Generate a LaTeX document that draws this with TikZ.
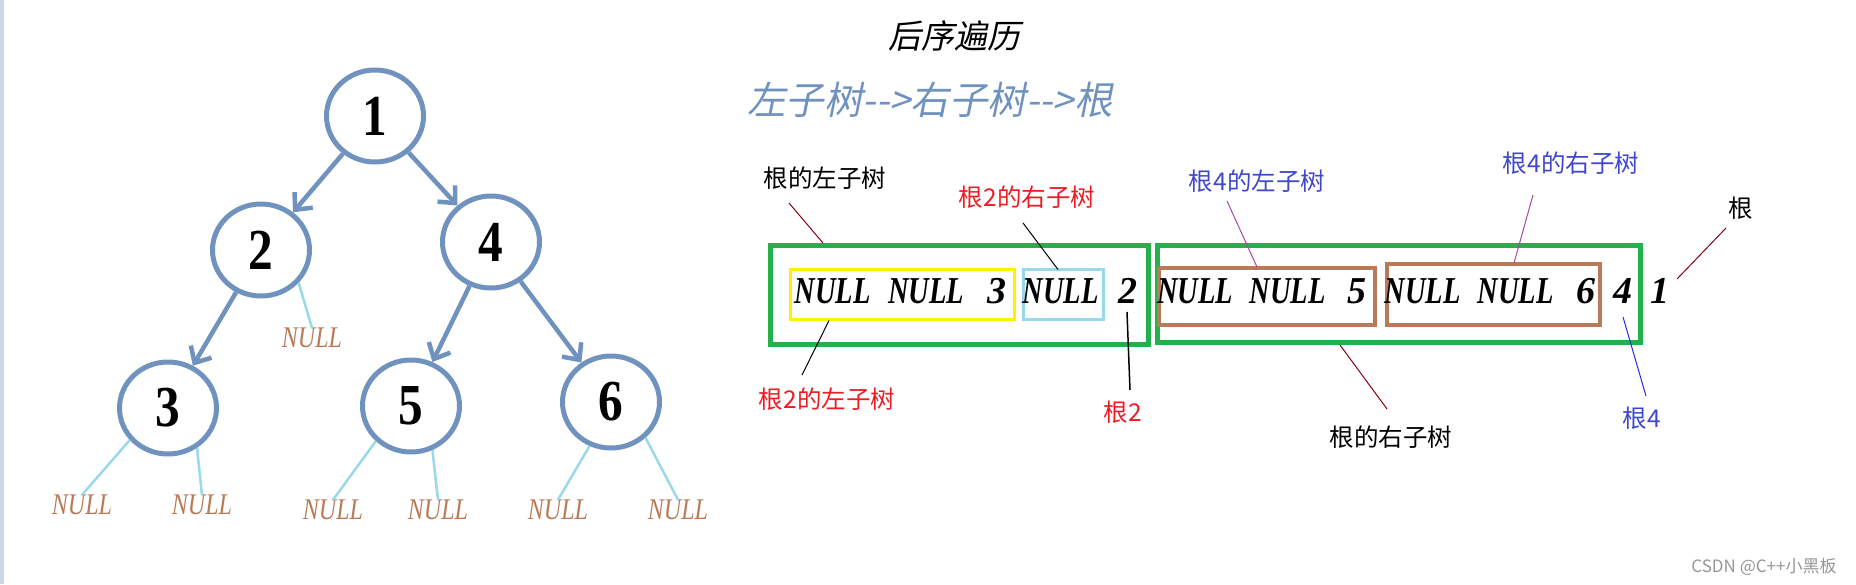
\documentclass[tikz,border=0pt]{standalone}
\usepackage{fontspec}
\setmainfont{Liberation Serif}
\newfontfamily\cjk{Noto Sans CJK SC}
\newfontfamily\cjkslant[FakeSlant=0.2]{Noto Sans CJK SC}
\newfontfamily\nullface[FakeStretch=0.8]{Liberation Serif}
\newfontfamily\seqface[FakeStretch=0.75]{Liberation Serif}
\newfontfamily\digface[FakeStretch=0.85]{Liberation Serif}
\usetikzlibrary{shapes.geometric,arrows.meta}
\definecolor{treeblue}{RGB}{112,146,190}
\definecolor{leafcyan}{RGB}{153,217,234}
\definecolor{nullbrown}{RGB}{185,122,87}
\definecolor{boxgreen}{RGB}{34,177,76}
\definecolor{boxyellow}{RGB}{255,242,0}
\definecolor{labred}{RGB}{237,28,36}
\definecolor{labindigo}{RGB}{63,72,204}
\definecolor{leadpurple}{RGB}{163,73,164}
\definecolor{leaddark}{RGB}{136,0,21}
\definecolor{leadblue}{RGB}{40,40,230}
\definecolor{wmgray}{RGB}{150,150,150}
\definecolor{sidebar}{RGB}{205,213,230}
\begin{document}
\begin{tikzpicture}[x=1pt,y=-1pt,
	treenode/.style={ellipse,draw=treeblue,line width=5pt,minimum width=97pt,minimum height=92pt,inner sep=0pt,font=\digface\bfseries\fontsize{58}{58}\selectfont},
	treearrow/.style={draw=treeblue,line width=4.5pt,-{Straight Barb[length=13pt,width=24pt]}},
	leafline/.style={draw=leafcyan,line width=2.5pt},
	nullleaf/.style={font=\nullface\itshape\fontsize{30}{30}\selectfont,text=nullbrown,inner sep=0pt},
	nulltok/.style={font=\seqface\bfseries\itshape\fontsize{38}{38}\selectfont,inner sep=0pt,anchor=base},
	digtok/.style={font=\bfseries\itshape\fontsize{38}{38}\selectfont,inner sep=0pt,anchor=base},
	box/.style={draw=#1,rectangle,inner sep=0pt,outer sep=0pt},
	lbl/.style={font=\cjk\fontsize{24.5}{24.5}\selectfont,inner sep=0pt},
	leader/.style={draw=#1,line width=1pt}]
	\useasboundingbox (0,0) rectangle (1856,584);
	\fill[sidebar] (0,0) rectangle (4,584);
	\node[font=\cjkslant\fontsize{33}{33}\selectfont] (title) at (954,36) {后序遍历};
	\node[font=\cjkslant\fontsize{38.5}{38.5}\selectfont,text=treeblue] (order) at (930,100) {左子树{-}{-}>右子树{-}{-}>根};
	\node[treenode] (n1) at (375,116) {1};
	\node[treenode] (n2) at (261,250) {2};
	\node[treenode] (n4) at (491,242) {4};
	\node[treenode] (n3) at (168,408) {3};
	\node[treenode] (n5) at (411,406) {5};
	\node[treenode] (n6) at (611,402) {6};
	\foreach \a/\b in {n1/n2,n1/n4,n2/n3,n4/n5,n4/n6}
		\draw[treearrow] (\a) -- (\b);
	\foreach \p/\a/\x/\y [count=\i] in {n2/319/312/338,n3/220/82/505,n3/306/202/505,n5/225/333/510,n5/296/438/510,n6/244/558/510,n6/314/678/510} {
		\node[nullleaf] (nl\i) at (\x,\y) {NULL};
		\draw[leafline] (\p.\a) -- (nl\i.north);
	}
	\node[box=boxgreen,line width=5pt,minimum width=378pt,minimum height=99pt] (g1) at (959,294.5) {};
	\node[box=boxgreen,line width=5pt,minimum width=483pt,minimum height=97pt] (g2) at (1399,294) {};
	\node[box=boxyellow,line width=3pt,minimum width=224pt,minimum height=50pt] (yb) at (902,294.5) {};
	\node[box=leafcyan,line width=3pt,minimum width=80pt,minimum height=50pt] (cb) at (1063.5,294.5) {};
	\node[box=nullbrown,line width=4pt,minimum width=216pt,minimum height=57pt] (bb1) at (1267,296.5) {};
	\node[box=nullbrown,line width=4pt,minimum width=213pt,minimum height=61pt] (bb2) at (1493.5,294.5) {};
	\foreach \x [count=\i] in {832.5,926,1060.5,1195,1287.5,1422.5,1515.5}
		\node[nulltok] (s\i) at (\x,303) {NULL};
	\foreach \x/\t in {996.5/3,1128/2,1356.5/5,1586/6,1622.5/4,1659.5/1}
		\node[digtok] (d\t) at (\x,303) {\t};
	\node[lbl] (rootl) at (825,178) {根的左子树};
	\node[lbl,text=labred] (r2r) at (1027,197) {根2的右子树};
	\node[lbl,text=labred] (r2l) at (827,399) {根2的左子树};
	\node[lbl,text=labred] (r2) at (1123,412) {根2};
	\node[lbl,text=labindigo] (r4l) at (1257,181) {根4的左子树};
	\node[lbl,text=labindigo] (r4r) at (1571,163) {根4的右子树};
	\node[lbl] (root) at (1741,208) {根};
	\node[lbl,text=labindigo] (r4) at (1642,418) {根4};
	\node[lbl] (rootr) at (1391,437) {根的右子树};
	\draw[leader=leaddark] ([shift={(-36,25)}]rootl.center) -- ([shift={(-136,-2)}]g1.north);
	\draw[leader=black] ([shift={(-4,26)}]r2r.center) -- ([shift={(-5.5,0)}]cb.north);
	\draw[leader=black] ([shift={(-25,-24)}]r2l.center) -- ([shift={(-73,1)}]yb.south);
	\draw[leader=black,line width=1.5pt] ([shift={(-1,9)}]d2.base) -- ([shift={(7,-22)}]r2.center);
	\draw[leader=leadpurple] ([shift={(-30,20)}]r4l.center) -- ([shift={(-10,-1)}]bb1.north);
	\draw[leader=leadpurple] ([shift={(-38,32)}]r4r.center) -- ([shift={(20.5,-1)}]bb2.north);
	\draw[leader=leaddark] ([shift={(-15,20)}]root.center) -- ([shift={(17.5,-24)}]d1.base);
	\draw[leader=leadblue] ([shift={(0.5,14)}]d4.base) -- ([shift={(4,-22)}]r4.center);
	\draw[leader=leaddark] ([shift={(-59,2.5)}]g2.south) -- ([shift={(-4,-28)}]rootr.center);
	\node[font=\cjk\fontsize{17}{17}\selectfont,text=wmgray] (mark) at (1764,567) {CSDN @C++小黑板};
\end{tikzpicture}
\end{document}
